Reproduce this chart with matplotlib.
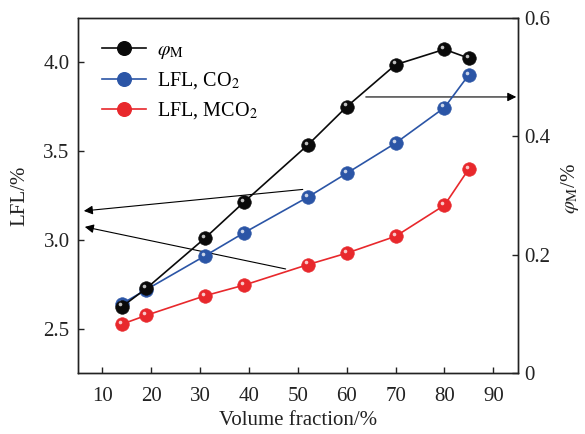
import matplotlib
matplotlib.use("Agg")
import matplotlib.pyplot as plt
from matplotlib.lines import Line2D
from matplotlib.transforms import offset_copy

plt.rcParams['font.family'] = ['Liberation Serif', 'DejaVu Serif']
plt.rcParams['mathtext.fontset'] = 'stix'

# volume fraction of the diluent
volume_fraction = [14, 19, 31, 39, 52, 60, 70, 80, 85]
# lower flammability limit (%)
lfl_co2 = [2.64, 2.72, 2.91, 3.04, 3.24, 3.375, 3.545, 3.745, 3.93]
lfl_mco2 = [2.525, 2.575, 2.685, 2.745, 2.86, 2.925, 3.02, 3.195, 3.40]
# phi_M (%)
phi_m = [0.112, 0.143, 0.228, 0.289, 0.385, 0.450, 0.521, 0.547, 0.532]

BLACK = '#0a0a0a'
BLUE = '#2b55a6'
RED = '#e8282c'


def ball_line(ax, x, y, color, label):
    ax.plot(x, y, '-', color=color, lw=1.2, marker='o', ms=9.8,
            mfc=color, mec=color, mew=0.4, label=label, zorder=3)
    # small glossy highlight on each ball
    shine = offset_copy(ax.transData, fig=ax.figure, x=-1.4, y=1.6, units='points')
    ax.plot(x, y, ls='none', marker='o', ms=2.6, mfc='white', mec='none',
            alpha=0.75, transform=shine, zorder=4)


fig = plt.figure(figsize=(5.85, 4.34), dpi=100)
ax = fig.add_axes([0.1333, 0.1406, 0.7517, 0.818])
ax2 = ax.twinx()

ball_line(ax, volume_fraction, lfl_co2, BLUE, 'LFL, CO$_2$')
ball_line(ax, volume_fraction, lfl_mco2, RED, 'LFL, MCO$_2$')
ball_line(ax2, volume_fraction, phi_m, BLACK, r'$\varphi_{\mathrm{M}}$')

ax.set_xlim(5, 95)
ax.set_ylim(2.25, 4.25)
ax2.set_ylim(0, 0.6)
ax.set_xticks([10, 20, 30, 40, 50, 60, 70, 80, 90])
ax.set_yticks([2.5, 3.0, 3.5, 4.0])
ax2.set_yticks([0, 0.2, 0.4, 0.6])
ax2.set_yticklabels(['0', '0.2', '0.4', '0.6'])

for a in (ax, ax2):
    for s in a.spines.values():
        s.set_linewidth(1.0)
        s.set_color('#222222')
ax.tick_params(axis='both', direction='in', length=4, width=1.0,
               labelsize=15, colors='#222222', labelcolor='#222222')
ax.tick_params(axis='y', pad=6)
ax.tick_params(axis='x', pad=10)
ax2.tick_params(axis='y', direction='in', length=4, width=1.0,
                labelsize=15, pad=5, colors='#222222', labelcolor='#222222')

ax.set_xlabel('Volume fraction/%', fontsize=15, color='#222222')
ax.xaxis.set_label_coords(0.5, -0.108)
ax.set_ylabel('LFL/%', fontsize=15, color='#222222')
ax.yaxis.set_label_coords(-0.11, 0.5)
ax2.set_ylabel(r'$\varphi_{\mathrm{M}}$/%', fontsize=15, color='#222222')
ax2.yaxis.set_label_coords(1.094, 0.52)

# arrows pointing each series to its axis
arrow = dict(arrowstyle='-|>', color='k', lw=0.8, mutation_scale=13,
             shrinkA=0, shrinkB=0)
ax.annotate('', xy=(6.2, 3.163), xytext=(51.0, 3.284), arrowprops=arrow, zorder=2)
ax.annotate('', xy=(6.4, 3.073), xytext=(47.5, 2.836), arrowprops=arrow, zorder=2)
ax.annotate('', xy=(94.7, 3.805), xytext=(63.9, 3.805), arrowprops=arrow, zorder=2)

handles = []
for c, lab in [(BLACK, r'$\varphi_{\mathrm{M}}$'), (BLUE, 'LFL, CO$_2$'),
               (RED, 'LFL, MCO$_2$')]:
    handles.append(Line2D([], [], color=c, lw=1.2, marker='o', ms=9.8,
                          mfc=c, mec=c, label=lab))
ax2.legend(handles=handles, loc='upper left', bbox_to_anchor=(0.055, 0.935),
           frameon=False, fontsize=14.5, handlelength=2.2, handletextpad=0.5,
           labelspacing=0.45, borderpad=0, borderaxespad=0)

fig.savefig('out.png', dpi=100)
